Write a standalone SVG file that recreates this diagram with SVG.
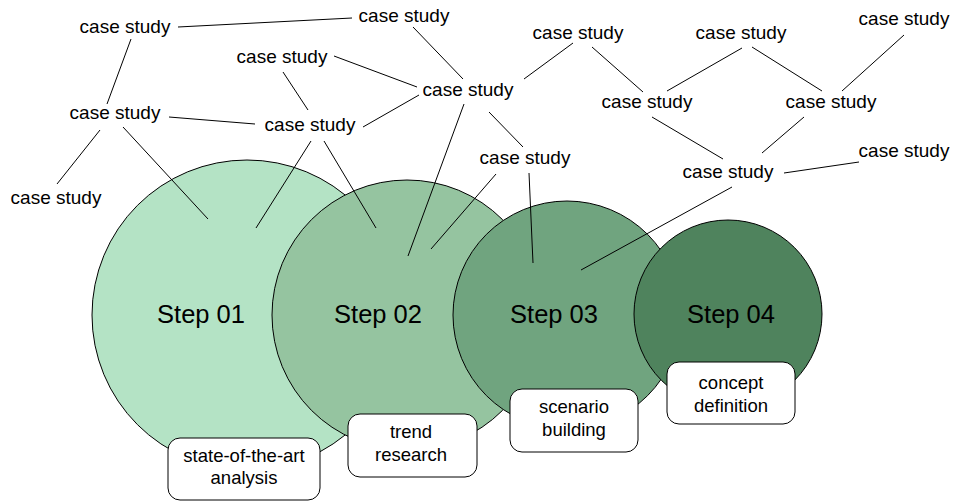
<svg xmlns="http://www.w3.org/2000/svg" width="953" height="501" viewBox="0 0 953 501">
<style>
.bg{fill:#ffffff}
.c{stroke:#000;stroke-width:1}
.t{font-family:"Liberation Sans",Arial,Helvetica,sans-serif;fill:#000;text-anchor:middle}
.cs{font-size:19px}
.st{font-size:25.5px}
.lb{font-size:18.5px}
.box{fill:#fff;stroke:#000;stroke-width:1}
.ln{stroke:#000;stroke-width:1;fill:none}
</style>
<rect class="bg" x="0" y="0" width="953" height="501"/>
<g id="step01"><circle class="c" cx="247" cy="315" r="155" fill="#b4e3c5"/><text class="t st" x="201" y="323">Step 01</text></g>
<g id="step02"><circle class="c" cx="407" cy="315" r="135" fill="#95c4a0"/><text class="t st" x="378" y="323">Step 02</text></g>
<g id="step03"><circle class="c" cx="567" cy="315" r="114" fill="#70a47f"/><text class="t st" x="554" y="323">Step 03</text></g>
<g id="step04"><circle class="c" cx="728" cy="314" r="94" fill="#4f835d"/><text class="t st" x="731" y="323">Step 04</text></g>
<g id="connectors">
<line class="ln" x1="178" y1="27" x2="352" y2="18"/>
<line class="ln" x1="131" y1="39" x2="107" y2="104"/>
<line class="ln" x1="413" y1="27" x2="463" y2="79"/>
<line class="ln" x1="334" y1="56" x2="417" y2="87"/>
<line class="ln" x1="283" y1="72" x2="308" y2="110"/>
<line class="ln" x1="169" y1="117" x2="255" y2="124"/>
<line class="ln" x1="363" y1="127" x2="419" y2="95"/>
<line class="ln" x1="100" y1="130" x2="57" y2="184"/>
<line class="ln" x1="123" y1="127" x2="208" y2="219"/>
<line class="ln" x1="311" y1="141" x2="256" y2="228"/>
<line class="ln" x1="324" y1="141" x2="376" y2="228"/>
<line class="ln" x1="464" y1="104" x2="408" y2="256"/>
<line class="ln" x1="496" y1="174" x2="431" y2="249"/>
<line class="ln" x1="489" y1="112" x2="523" y2="147"/>
<line class="ln" x1="529" y1="173" x2="533" y2="263"/>
<line class="ln" x1="524" y1="79" x2="573" y2="43"/>
<line class="ln" x1="592" y1="47" x2="643" y2="92"/>
<line class="ln" x1="742" y1="48" x2="667" y2="91"/>
<line class="ln" x1="752" y1="47" x2="822" y2="91"/>
<line class="ln" x1="904" y1="35" x2="842" y2="91"/>
<line class="ln" x1="652" y1="117" x2="723" y2="159"/>
<line class="ln" x1="804" y1="117" x2="762" y2="153"/>
<line class="ln" x1="784" y1="173" x2="859" y2="162"/>
<line class="ln" x1="732" y1="187" x2="581" y2="270"/>
</g>
<g id="cs1"><text class="t cs" x="125" y="33">case study</text></g>
<g id="cs2"><text class="t cs" x="404" y="22">case study</text></g>
<g id="cs3"><text class="t cs" x="282" y="63">case study</text></g>
<g id="cs4"><text class="t cs" x="468" y="96">case study</text></g>
<g id="cs5"><text class="t cs" x="115" y="119">case study</text></g>
<g id="cs6"><text class="t cs" x="310" y="131">case study</text></g>
<g id="cs7"><text class="t cs" x="56" y="204">case study</text></g>
<g id="cs8"><text class="t cs" x="578" y="39">case study</text></g>
<g id="cs9"><text class="t cs" x="741" y="39">case study</text></g>
<g id="cs10"><text class="t cs" x="904" y="25">case study</text></g>
<g id="cs11"><text class="t cs" x="647" y="108">case study</text></g>
<g id="cs12"><text class="t cs" x="831" y="108">case study</text></g>
<g id="cs13"><text class="t cs" x="525" y="164">case study</text></g>
<g id="cs14"><text class="t cs" x="728" y="178">case study</text></g>
<g id="cs15"><text class="t cs" x="904" y="157">case study</text></g>
<g id="label01"><rect class="box" x="168" y="438" width="152" height="62" rx="12"/><text class="t lb" x="244" y="462">state-of-the-art</text><text class="t lb" x="244" y="484">analysis</text></g>
<g id="label02"><rect class="box" x="348" y="414" width="129" height="63" rx="12"/><text class="t lb" x="411" y="438">trend</text><text class="t lb" x="411" y="461">research</text></g>
<g id="label03"><rect class="box" x="510" y="389" width="128" height="63" rx="12"/><text class="t lb" x="574" y="413">scenario</text><text class="t lb" x="574" y="436">building</text></g>
<g id="label04"><rect class="box" x="667" y="362" width="128" height="62" rx="12"/><text class="t lb" x="731" y="389">concept</text><text class="t lb" x="731" y="412">definition</text></g>
</svg>
